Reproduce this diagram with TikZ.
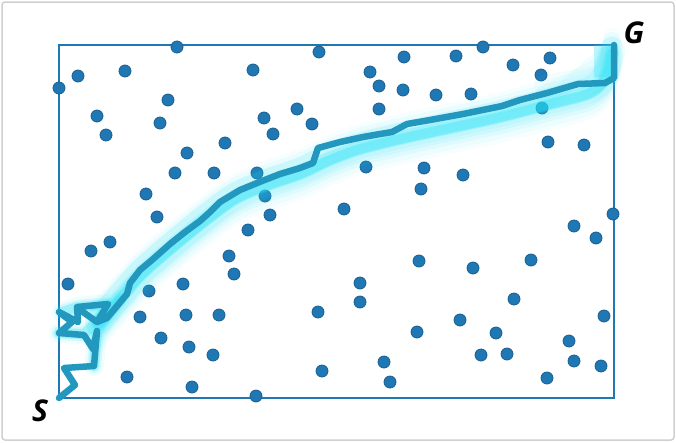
\documentclass[tikz,border=0pt]{standalone}
\usepackage{fontspec}
\setsansfont{Open Sans}
\usetikzlibrary{calc,positioning}
\definecolor{dotblue}{RGB}{31,119,180}
\definecolor{pathteal}{RGB}{35,152,190}
\definecolor{glowcyan}{RGB}{40,225,245}
\definecolor{framegray}{RGB}{208,208,208}

\begin{document}
\begin{tikzpicture}[
    x=1pt, y=-1pt,
    obstacle/.style={circle, fill=dotblue, draw=dotblue!80!black, line width=0.8pt,
                     minimum size=12pt, inner sep=0pt},
    endlabel/.style={font=\sffamily\bfseries\itshape\fontsize{30}{30}\selectfont,
                     inner sep=0pt},
    route/.style={draw=pathteal, line width=6.5pt, line join=round, line cap=round},
    glow/.style={draw=glowcyan, line join=round, line cap=round}
]
    \useasboundingbox (0,0) rectangle (676,442);
    \draw[framegray, line width=1.5pt, rounded corners=3pt] (2,2) rectangle (674,440);

    % workspace
    \draw[dotblue, line width=1.5pt] (59,45) rectangle (614,398);
    \coordinate (start) at (59,398);
    \coordinate (goal) at (614,45);

    % obstacles
    \foreach \px/\py [count=\i] in {177/47, 319/52, 78/76, 59/88, 125/71, 253/70, 168/100,
        97/116, 160/123, 106/135, 264/118, 297/109, 312/124, 273/134, 225/143, 187/153,
        175/173, 214/173, 257/173, 146/194, 265/196, 157/217, 270/215,
        404/57, 456/56, 483/47, 370/72, 513/65, 550/58, 379/86, 403/90, 541/75, 436/95,
        471/94, 379/109, 542/108, 548/142, 584/145, 366/167, 424/168, 463/175, 421/189,
        344/209, 613/214, 574/226, 248/230, 91/251, 110/242, 229/256, 234/274, 68/284,
        149/291, 183/284, 140/317, 186/315, 219/315, 318/312, 161/338, 189/347, 213/355,
        322/371, 127/377, 192/387, 256/396, 596/238, 419/261, 473/268, 531/260, 360/283,
        360/302, 514/299, 604/316, 460/320, 417/332, 496/333, 569/341, 384/362, 481/355,
        507/354, 574/361, 601/366, 547/378, 390/382}
        \node[obstacle] (obs\i) at (\px,\py) {};

    % glow of sampled paths
    \foreach \dy/\w/\op in {-14/16/0.04, -9/18/0.06, -4/20/0.08, 0/26/0.10, 5/22/0.10,
                            10/20/0.08, 16/18/0.05, 22/14/0.03, 2/14/0.22, 3/10/0.35}
        \draw[glow, line width=\w pt, opacity=\op, shift={(0,\dy)}]
            plot[smooth] coordinates {(98,322) (112,305) (125,290) (140,273) (160,255)
            (185,234) (210,214) (235,196) (265,183) (300,171) (330,157) (360,146)
            (400,136) (450,125) (500,114) (550,101) (590,90) (606,74) (612,50)};
    \foreach \dy/\w/\op in {-18/20/0.05, -28/18/0.05, -38/14/0.06}
        \draw[glow, line width=\w pt, opacity=\op]
            ($(goal)+(-70,{-\dy+22})$) -- ($(goal)+(-12,\dy+48)$) -- ($(goal)+(-5,8)$);
    \fill[glowcyan, opacity=0.30] ($(goal)+(-20,0)$) rectangle ($(goal)+(0,32)$);
    \foreach \w/\op in {20/0.08, 14/0.15, 10/0.30}
        \draw[glow, line width=\w pt, opacity=\op]
            (62,312) -- (78,307) -- (108,304) -- (97,322) -- (84,334) -- (59,333)
            (94,366) -- (97,331) -- (120,300);

    % planned path
    \draw[route] (start) -- (75,385) -- (64,368) -- (94,366) -- (97,331) -- (93,349)
        -- (84,335) -- (59,333) -- (72,322) -- (59,312) -- (78,322) -- (77,307)
        -- (108,304) -- (97,322) -- (83,312) -- (97,322) -- (107,318) -- (127,294)
        -- (130,283) -- (140,270) -- (152,260) -- (170,244) -- (185,232) -- (200,221)
        -- (210,212) -- (220,202) -- (240,190) -- (262,181) -- (280,174) -- (300,168)
        -- (313,163) -- (318,148) -- (340,142) -- (363,137) -- (380,134) -- (392,132)
        -- (407,124) -- (430,120) -- (463,114) -- (502,106) -- (520,100) -- (547,93)
        -- (578,84) -- (605,83) -- (614,78) -- (goal);

    \node[endlabel] (slabel) at (40,411) {S};
    \node[endlabel] (glabel) at (634,33) {G};
\end{tikzpicture}
\end{document}
